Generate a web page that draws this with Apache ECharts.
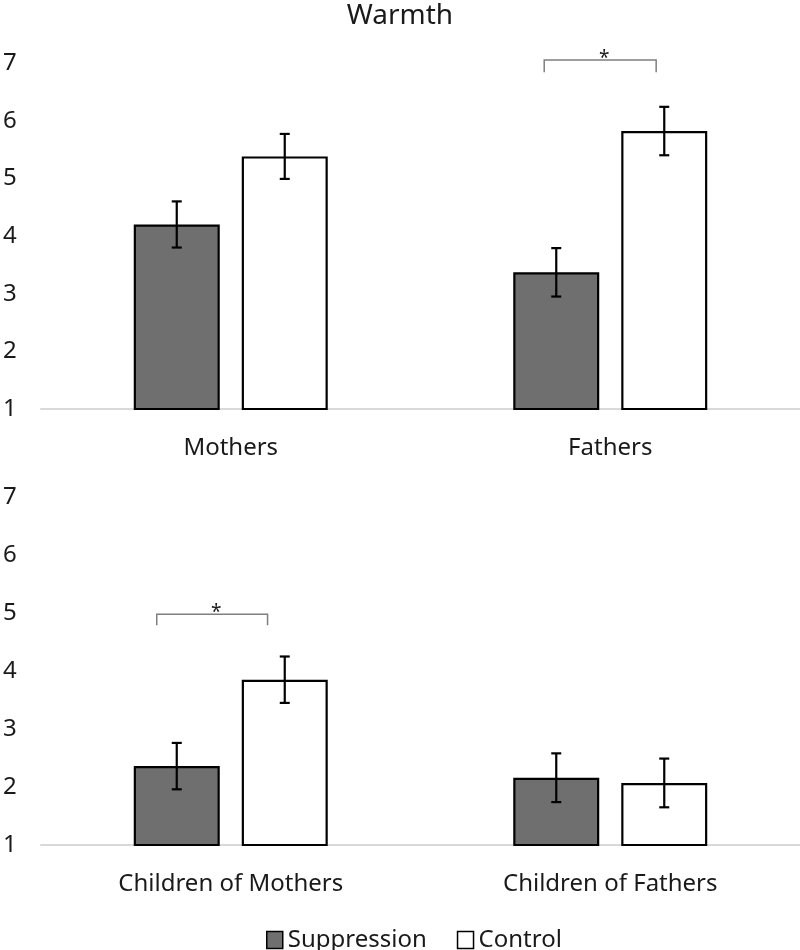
<!DOCTYPE html>
<html>
<head>
<meta charset="utf-8">
<script src="https://cdn.jsdelivr.net/npm/echarts@6/dist/echarts.min.js"></script>
<style>
html,body{margin:0;padding:0;background:#fff;}
#main{width:800px;height:950px;}
</style>
</head>
<body>
<div id="main"></div>
<script>
// ---- data ----
var categoriesTop = ['Mothers', 'Fathers'];
var categoriesBottom = ['Children of Mothers', 'Children of Fathers'];
var suppressionTop = [4.2, 3.37];
var controlTop = [5.38, 5.82];
var suppressionTopErr = [0.4, 0.42];
var controlTopErr = [0.39, 0.42];
var suppressionBottom = [2.36, 2.16];
var controlBottom = [3.85, 2.07];
var suppressionBottomErr = [0.4, 0.42];
var controlBottomErr = [0.4, 0.42];
var yMin = 1, yMax = 7, yStep = 1;
// significance brackets: [categoryIndex, fromBandFraction, toBandFraction, lineValue, dropValue]
var bracketsTop = [[1, -0.174, 0.121, 7.05, 6.84]];
var bracketsBottom = [[0, -0.195, 0.097, 4.98, 4.79]];
var seriesNames = ['Suppression', 'Control'];

// ---- style constants ----
var BAR_W = 86, GAP = 22, CAP = 10;
var FONT = 'Noto Sans';
var TEXT = '#1a1a1a';
var SUPP_FILL = '#6f6f6f';

function errData(vals, errs, side) {
  return vals.map(function (v, i) { return [i, v, errs[i], side]; });
}
function errRender(params, api) {
  var c = api.value(0), v = api.value(1), e = api.value(2), side = api.value(3);
  var top = api.coord([c, v + e]);
  var bot = api.coord([c, v - e]);
  var x = top[0] + side * (BAR_W + GAP) / 2;
  var st = { stroke: '#000', lineWidth: 2.2 };
  return { type: 'group', children: [
    { type: 'line', shape: { x1: x, y1: top[1], x2: x, y2: bot[1] }, style: st },
    { type: 'line', shape: { x1: x - CAP / 2, y1: top[1], x2: x + CAP / 2, y2: top[1] }, style: st },
    { type: 'line', shape: { x1: x - CAP / 2, y1: bot[1], x2: x + CAP / 2, y2: bot[1] }, style: st }
  ]};
}
function bracketRender(params, api) {
  var c = api.value(0), f = api.value(1), t = api.value(2), yv = api.value(3), dv = api.value(4);
  var ctr = api.coord([c, yv]);
  var band = api.size([1, 0])[0];
  var yd = api.coord([c, dv])[1];
  var x1 = ctr[0] + f * band, x2 = ctr[0] + t * band, y = ctr[1];
  return { type: 'group', children: [
    { type: 'polyline', shape: { points: [[x1, yd], [x1, y], [x2, y], [x2, yd]] }, style: { stroke: '#7f7f7f', lineWidth: 1.5, fill: null } },
    { type: 'text', style: { text: '*', x: (x1 + x2) / 2 + 4, y: y - 2, align: 'center', verticalAlign: 'middle', font: '19px "' + FONT + '"', fill: TEXT } }
  ]};
}

var xAxisCommon = {
  type: 'category',
  axisLine: { show: true, lineStyle: { color: '#d9d9d9', width: 2 } },
  axisTick: { show: false },
  axisLabel: { fontFamily: FONT, fontSize: 24, color: TEXT, margin: 27 },
  splitLine: { show: false }
};
var yAxisCommon = {
  type: 'value', min: yMin, max: yMax, interval: yStep,
  axisLine: { show: false }, axisTick: { show: false }, splitLine: { show: false },
  axisLabel: { fontFamily: FONT, fontSize: 24, color: TEXT, align: 'left', margin: 38 }
};
var barStyle = function (fill) { return { color: fill, borderColor: '#000', borderWidth: 2.2 }; };

var chart = echarts.init(document.getElementById('main'));
chart.setOption({
  animation: false,
  backgroundColor: '#fff',
  title: {
    text: 'Warmth', left: 'center', top: -3,
    textStyle: { fontFamily: FONT, fontSize: 28, fontWeight: 'normal', color: TEXT }
  },
  legend: {
    left: 261, top: 923, itemWidth: 16, itemHeight: 17, itemGap: 30,
    icon: 'rect',
    textStyle: { fontFamily: FONT, fontSize: 24, color: TEXT },
    data: [
      { name: seriesNames[0], itemStyle: { color: SUPP_FILL, borderColor: '#000', borderWidth: 1.5 } },
      { name: seriesNames[1], itemStyle: { color: '#fff', borderColor: '#000', borderWidth: 1.5 } }
    ]
  },
  grid: [
    { left: 40, right: 0, top: 63, height: 346 },
    { left: 40, right: 0, top: 497, height: 348 }
  ],
  xAxis: [
    Object.assign({}, xAxisCommon, { gridIndex: 0, data: categoriesTop }),
    Object.assign({}, xAxisCommon, { gridIndex: 1, data: categoriesBottom })
  ],
  yAxis: [
    Object.assign({}, yAxisCommon, { gridIndex: 0 }),
    Object.assign({}, yAxisCommon, { gridIndex: 1 })
  ],
  series: [
    { name: seriesNames[0], type: 'bar', xAxisIndex: 0, yAxisIndex: 0, data: suppressionTop, barWidth: BAR_W, barGap: (GAP / BAR_W * 100) + '%', itemStyle: barStyle(SUPP_FILL), z: 2 },
    { name: seriesNames[1], type: 'bar', xAxisIndex: 0, yAxisIndex: 0, data: controlTop, barWidth: BAR_W, barGap: (GAP / BAR_W * 100) + '%', itemStyle: barStyle('#fff'), z: 2 },
    { name: seriesNames[0], type: 'bar', xAxisIndex: 1, yAxisIndex: 1, data: suppressionBottom, barWidth: BAR_W, barGap: (GAP / BAR_W * 100) + '%', itemStyle: barStyle(SUPP_FILL), z: 2 },
    { name: seriesNames[1], type: 'bar', xAxisIndex: 1, yAxisIndex: 1, data: controlBottom, barWidth: BAR_W, barGap: (GAP / BAR_W * 100) + '%', itemStyle: barStyle('#fff'), z: 2 },
    { type: 'custom', xAxisIndex: 0, yAxisIndex: 0, renderItem: errRender, z: 5,
      data: errData(suppressionTop, suppressionTopErr, -1).concat(errData(controlTop, controlTopErr, 1)) },
    { type: 'custom', xAxisIndex: 1, yAxisIndex: 1, renderItem: errRender, z: 5,
      data: errData(suppressionBottom, suppressionBottomErr, -1).concat(errData(controlBottom, controlBottomErr, 1)) },
    { type: 'custom', xAxisIndex: 0, yAxisIndex: 0, renderItem: bracketRender, z: 5, clip: false, data: bracketsTop },
    { type: 'custom', xAxisIndex: 1, yAxisIndex: 1, renderItem: bracketRender, z: 5, clip: false, data: bracketsBottom }
  ]
});
</script>
</body>
</html>
